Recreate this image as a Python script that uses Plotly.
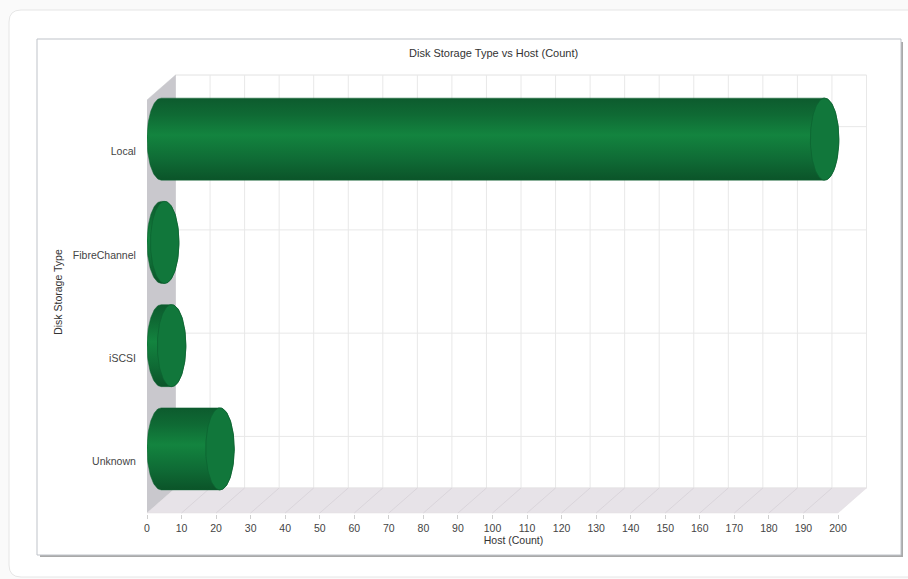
import numpy as np
import plotly.graph_objects as go

# ---------------- data ----------------
categories = ["Unknown", "iSCSI", "FibreChannel", "Local"]   # bottom -> top
host_counts = [17, 3, 1, 192]
x_tick_values = list(range(0, 201, 10))
x_axis_max = 200
chart_title = "Disk Storage Type vs Host (Count)"
x_title = "Host (Count)"
y_title = "Disk Storage Type"

# ---------------- geometry ----------------
W, H = 908, 579
L, R, T, B = 147, 28, 70, 65
PW = W - L - R
PH = H - T - B
PX_PER_UNIT = 3.455
PX_PER_BAND = 103.25
FRONT_BOTTOM_PX = 513

x_range = [0, PW / PX_PER_UNIT]
y_range = [(FRONT_BOTTOM_PX - (T + PH)) / PX_PER_BAND, (FRONT_BOTTOM_PX - T) / PX_PER_BAND]

DX = 28.5 / PX_PER_UNIT      # depth offset in value units
DY = 25.0 / PX_PER_BAND      # depth offset in band units
RX = DX / 2
RY = 41.0 / PX_PER_BAND
n = len(categories)

def xp(px):
    return (px - L) / PW

def yp(py):
    return (T + PH - py) / PH

def rrect(x0, y0, x1, y1, r):
    rx_ = r / PW
    ry_ = r / PH
    a, b, c, d = xp(x0), yp(y0), xp(x1), yp(y1)
    return (f"M {a+rx_},{b} L {c-rx_},{b} Q {c},{b} {c},{b-ry_} "
            f"L {c},{d+ry_} Q {c},{d} {c-rx_},{d} L {a+rx_},{d} "
            f"Q {a},{d} {a},{d+ry_} L {a},{b-ry_} Q {a},{b} {a+rx_},{b} Z")

fig = go.Figure()

# back wall
fig.add_trace(go.Scatter(
    x=[DX, DX + x_axis_max, DX + x_axis_max, DX, DX],
    y=[DY, DY, DY + n, DY + n, DY],
    fill="toself", fillcolor="white", mode="lines",
    line=dict(color="#e2e2e2", width=1), hoverinfo="skip", showlegend=False))

gx, gy = [], []
for v in x_tick_values:
    gx += [v + DX, v + DX, None]
    gy += [DY, DY + n, None]
for i in range(n):
    gx += [DX, DX + x_axis_max, None]
    gy += [i + 0.5 + DY, i + 0.5 + DY, None]
fig.add_trace(go.Scatter(x=gx, y=gy, mode="lines",
                         line=dict(color="#e8e8e8", width=1),
                         hoverinfo="skip", showlegend=False))

# left side wall
fig.add_trace(go.Scatter(
    x=[0, DX, DX, 0, 0], y=[0, DY, DY + n, n, 0],
    fill="toself", fillcolor="#c9c8cd", mode="lines",
    line=dict(color="#c9c8cd", width=0.5), hoverinfo="skip", showlegend=False))

# floor
fig.add_trace(go.Scatter(
    x=[0, x_axis_max, x_axis_max + DX, DX, 0], y=[0, 0, DY, DY, 0],
    fill="toself", fillcolor="#e7e3e8", mode="lines",
    line=dict(color="#e0dce1", width=0.5), hoverinfo="skip", showlegend=False))
fx, fy = [], []
for v in x_tick_values[1:-1]:
    fx += [v, v + DX, None]
    fy += [0, DY, None]
fig.add_trace(go.Scatter(x=fx, y=fy, mode="lines",
                         line=dict(color="#d5d1d7", width=0.8),
                         hoverinfo="skip", showlegend=False))

# cylinders
for i, (cat, v) in enumerate(zip(categories, host_counts)):
    cy = i + 0.5 + DY / 2
    x0 = DX / 2
    x1 = v + DX / 2
    t1 = np.linspace(np.pi / 2, 3 * np.pi / 2, 60)
    t2 = np.linspace(-np.pi / 2, np.pi / 2, 60)
    bx = np.concatenate([x0 + RX * np.cos(t1), x1 + RX * np.cos(t2), [x0]])
    by = np.concatenate([cy + RY * np.sin(t1), cy + RY * np.sin(t2), [cy + RY]])
    fig.add_trace(go.Scatter(
        x=bx, y=by, fill="toself", mode="lines",
        line=dict(color="#0e6230", width=0.5),
        fillgradient=dict(type="vertical",
                          colorscale=[[0, "#0b5429"], [0.25, "#0f6b35"],
                                      [0.55, "#13843f"], [0.8, "#0f6a34"],
                                      [1, "#0d5b2e"]]),
        hoverinfo="skip", showlegend=False))
    t = np.linspace(0, 2 * np.pi, 100)
    fig.add_trace(go.Scatter(
        x=x1 + RX * np.cos(t), y=cy + RY * np.sin(t),
        fill="toself", fillcolor="#11773b", mode="lines",
        line=dict(color="#0d6331", width=0.8),
        name=cat, hovertemplate=f"{cat}: {v}<extra></extra>", showlegend=False))

shapes = [
    dict(type="path", xref="paper", yref="paper", path=rrect(9, 10, 940, 577, 12),
         fillcolor="white", line=dict(color="#e6e6e6", width=1), layer="below"),
    dict(type="rect", xref="paper", yref="paper",
         x0=xp(40), x1=xp(903), y0=yp(42), y1=yp(557),
         fillcolor="#a9a9a9", line=dict(width=0), layer="below"),
    dict(type="rect", xref="paper", yref="paper",
         x0=xp(37), x1=xp(901), y0=yp(39), y1=yp(555),
         fillcolor="white", line=dict(color="#bfc3c9", width=1), layer="below"),
]

fig.update_layout(
    width=W, height=H,
    margin=dict(l=L, r=R, t=T, b=B, autoexpand=False),
    paper_bgcolor="#fafafa",
    plot_bgcolor="rgba(0,0,0,0)",
    font=dict(family="Liberation Sans, Arial, sans-serif", size=10.5, color="#444"),
    shapes=shapes,
    showlegend=False,
    annotations=[dict(text=chart_title, xref="paper", yref="paper",
                      x=xp(493), y=yp(53), xanchor="center", yanchor="middle",
                      showarrow=False, font=dict(size=11, color="#333"))],
    xaxis=dict(range=x_range, tickvals=x_tick_values, showgrid=False, zeroline=False,
               showline=False, ticks="outside", ticklen=4, tickcolor="#cfcfcf",
               tickfont=dict(size=10.5, color="#444"), fixedrange=True,
               title=dict(text=x_title, font=dict(size=10.5, color="#333"), standoff=4)),
    yaxis=dict(range=y_range, tickvals=[i + 0.5 for i in range(n)], ticktext=categories,
               showgrid=False, zeroline=False, showline=False, ticks="outside",
               ticklen=8, tickcolor="rgba(0,0,0,0)", fixedrange=True,
               tickfont=dict(size=10.5, color="#444"),
               title=dict(text=y_title, font=dict(size=10.5, color="#333"), standoff=8)),
)

fig.write_html("out.html")
